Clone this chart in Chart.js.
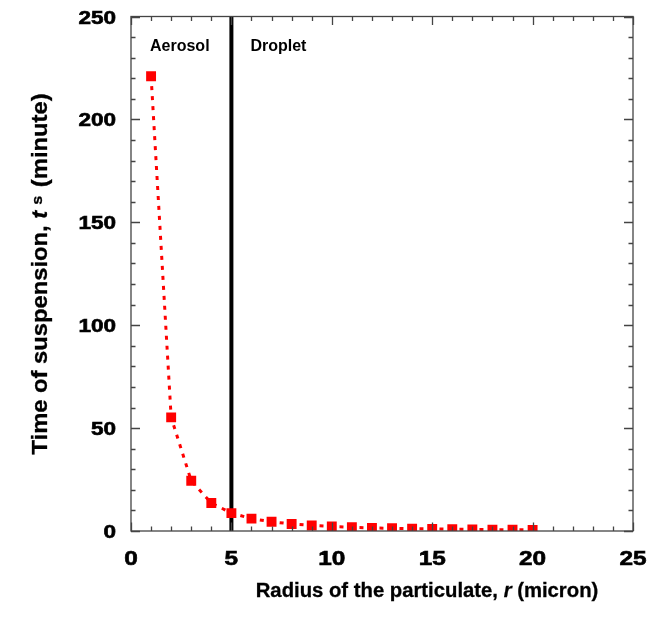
<!DOCTYPE html>
<html>
<head>
<meta charset="utf-8">
<script src="https://cdn.jsdelivr.net/npm/chart.js@4.4.0/dist/chart.umd.min.js"></script>
<style>
  html, body { margin: 0; padding: 0; background: #ffffff; }
  #wrap { width: 647px; height: 620px; }
</style>
</head>
<body>
<div id="wrap"><canvas id="c" width="647" height="620"></canvas></div>
<script>
// ---- data ----
const radius = [1, 2, 3, 4, 5, 6, 7, 8, 9, 10, 11, 12, 13, 14, 15, 16, 17, 18, 19, 20];
const suspensionTime = [221, 55.2, 24.4, 13.6, 8.7, 6.0, 4.5, 3.4, 2.7, 2.2, 1.8, 1.5, 1.3, 1.1, 1.0, 0.86, 0.76, 0.68, 0.6, 0.55];
const dividerX = 5;
const xTickLabels = [0, 5, 10, 15, 20, 25];
const yTickLabels = [0, 50, 100, 150, 200, 250];
const regionLabels = ["Aerosol", "Droplet"];

const FONT = "'Liberation Sans', Arial, Helvetica, sans-serif";

function drawRich(ctx, segs, x, y, align, strokeW) {
  let total = 0;
  segs.forEach(s => { ctx.font = s.font; s.w = ctx.measureText(s.t).width * (s.sx || 1) + (s.gap || 0); total += s.w; });
  let cx = align === 'center' ? x - total / 2 : (align === 'right' ? x - total : x);
  segs.forEach(s => {
    ctx.save();
    ctx.font = s.font;
    ctx.textAlign = 'left';
    ctx.textBaseline = 'alphabetic';
    ctx.translate(cx + (s.pre || 0), y + (s.dy || 0));
    ctx.scale(s.sx || 1, 1);
    ctx.fillText(s.t, 0, 0);
    if (strokeW) { ctx.lineWidth = strokeW; ctx.strokeStyle = ctx.fillStyle; ctx.strokeText(s.t, 0, 0); }
    ctx.restore();
    cx += s.w + (s.pre || 0);
  });
}

const decor = {
  id: 'decor',
  afterDatasetsDraw(chart) {
    const ctx = chart.ctx;
    const xs = chart.scales.x, ys = chart.scales.y;
    const a = chart.chartArea;
    ctx.save();
    ctx.strokeStyle = '#444';
    ctx.lineWidth = 1.3;
    ctx.strokeRect(a.left, a.top, a.right - a.left, a.bottom - a.top);
    ctx.beginPath();
    for (let v = 0; v <= 25; v += 1) {
      const px = Math.round(xs.getPixelForValue(v)) + 0.5;
      const len = (v % 5 === 0) ? 8.5 : 4.5;
      ctx.moveTo(px, a.bottom); ctx.lineTo(px, a.bottom - len);
      ctx.moveTo(px, a.top); ctx.lineTo(px, a.top + len);
    }
    for (let v = 0; v <= 250; v += 10) {
      const py = Math.round(ys.getPixelForValue(v)) + 0.5;
      const len = (v % 50 === 0) ? 9 : 4.5;
      ctx.moveTo(a.left, py); ctx.lineTo(a.left + len, py);
      ctx.moveTo(a.right, py); ctx.lineTo(a.right - len, py);
    }
    ctx.stroke();
    ctx.restore();
  },
  afterDraw(chart) {
    const ctx = chart.ctx;
    const xs = chart.scales.x;
    const ys = chart.scales.y;
    ctx.save();
    ctx.fillStyle = '#000';
    yTickLabels.forEach(v => {
      drawRich(ctx, [{t: String(v), font: "bold 18px " + FONT, sx: 1.25}], 116, ys.getPixelForValue(v) + 7, 'right', 0.6);
    });
    xTickLabels.forEach(v => {
      drawRich(ctx, [{t: String(v), font: "bold 20px " + FONT, sx: 1.22}], xs.getPixelForValue(v), 565, 'center', 0.6);
    });
    drawRich(ctx, [{t: regionLabels[0], font: "bold 16px " + FONT}], 150, 51, 'left');
    drawRich(ctx, [{t: regionLabels[1], font: "bold 16px " + FONT}], xs.getPixelForValue(dividerX) + 19, 51, 'left');
    drawRich(ctx, [
      {t: "Radius of the particulate, ", font: "bold 20.3px " + FONT},
      {t: "r", font: "italic bold 20.3px " + FONT},
      {t: " (micron)", font: "bold 20.3px " + FONT}
    ], 427, 597, 'center', 0.3);
    ctx.save();
    ctx.translate(47, 277);
    ctx.rotate(-Math.PI / 2);
    drawRich(ctx, [
      {t: "Time of suspension, ", font: "bold 22px " + FONT, sx: 1.08},
      {t: "t", font: "italic bold 22px " + FONT, sx: 1.08},
      {t: "s", font: "bold 15px " + FONT, sx: 1.08, dy: -5, pre: 6, gap: 2},
      {t: " (minute)", font: "bold 22px " + FONT, sx: 1.08}
    ], 0, 0, 'center', 0.3);
    ctx.restore();
    ctx.restore();
  }
};

new Chart(document.getElementById('c'), {
  type: 'scatter',
  data: {
    datasets: [
      {
        data: radius.map((r, i) => ({x: r, y: suspensionTime[i]})),
        showLine: true,
        borderColor: '#ff0000',
        borderWidth: 3,
        borderDash: [4, 6],
        backgroundColor: '#ff0000',
        pointStyle: 'rect',
        pointRadius: 7,
        pointBorderWidth: 0,
        pointBackgroundColor: '#ff0000',
        tension: 0,
        order: 1
      },
      {
        data: [{x: dividerX, y: 0}, {x: dividerX, y: 250}],
        showLine: true,
        borderColor: '#000000',
        borderWidth: 4,
        pointRadius: 0,
        order: 2
      }
    ]
  },
  options: {
    responsive: false,
    animation: false,
    devicePixelRatio: 1,
    layout: { padding: { left: 131, right: 14, top: 16.5, bottom: 89 } },
    plugins: { legend: { display: false }, tooltip: { enabled: false } },
    scales: {
      x: { type: 'linear', min: 0, max: 25, display: false },
      y: { type: 'linear', min: 0, max: 250, display: false }
    }
  },
  plugins: [decor]
});
</script>
</body>
</html>
